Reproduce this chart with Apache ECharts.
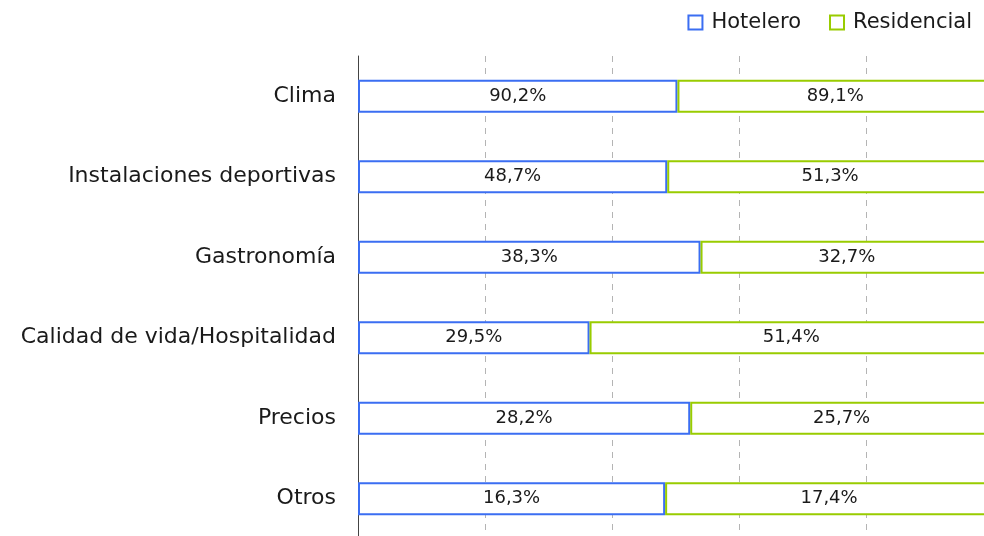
<!DOCTYPE html>
<html>
<head>
<meta charset="utf-8">
<script src="https://cdn.jsdelivr.net/npm/echarts@6/dist/echarts.min.js"></script>
<style>
  html, body { margin: 0; padding: 0; background: #fff; }
  #chart { width: 984px; height: 536px; }
</style>
</head>
<body>
<div id="chart"></div>
<script>
  // categories, top to bottom
  const categories = ['Clima', 'Instalaciones deportivas', 'Gastronomía', 'Calidad de vida/Hospitalidad', 'Precios', 'Otros'];
  const hotelero = [90.2, 48.7, 38.3, 29.5, 28.2, 16.3];
  const residencial = [89.1, 51.3, 32.7, 51.4, 25.7, 17.4];
  const xTicks = [0, 20, 40, 60, 80, 100];

  // 100% stacked: share of each row total
  const share = (arr, i) => arr[i] / (hotelero[i] + residencial[i]) * 100;
  const fmt = v => v.toFixed(1).replace('.', ',') + '%';

  const font = 'DejaVu Sans';
  const blue = '#3b6ef2';
  const green = '#99cc00';

  const myChart = echarts.init(document.getElementById('chart'));

  const makeSeries = (name, raw, color) => ({
    name: name,
    type: 'bar',
    stack: 'total',
    barWidth: 33,
    data: raw.map((v, i) => share(raw, i)),
    itemStyle: { color: '#fff', borderColor: color, borderWidth: 2 },
    label: {
      show: true,
      position: 'inside',
      color: '#1a1a1a',
      fontFamily: font,
      fontSize: 18,
      formatter: p => fmt(raw[p.dataIndex])
    },
    emphasis: { disabled: true }
  });

  const option = {
    animation: false,
    legend: {
      right: 7,
      top: 7,
      itemWidth: 14,
      itemHeight: 14,
      itemGap: 28,
      textStyle: { fontFamily: font, fontSize: 21, color: '#1a1a1a', padding: [0, 0, 0, 4] },
      data: [
        { name: 'Hotelero', icon: 'rect', itemStyle: { color: '#fff', borderColor: blue, borderWidth: 2 } },
        { name: 'Residencial', icon: 'rect', itemStyle: { color: '#fff', borderColor: green, borderWidth: 2 } }
      ]
    },
    // plot runs past the right edge of the window, as in the original
    grid: { left: 358, width: 635, top: 56, height: 483, outerBoundsMode: 'none' },
    xAxis: {
      type: 'value',
      min: xTicks[0],
      max: xTicks[xTicks.length - 1],
      interval: 20,
      axisLine: { show: false },
      axisTick: { show: false },
      axisLabel: { show: false },
      splitLine: { lineStyle: { color: '#b4b4b4', type: [6, 6], width: 1 } }
    },
    yAxis: {
      type: 'category',
      inverse: true,
      data: categories,
      axisLine: { lineStyle: { color: '#444', width: 1 } },
      axisTick: { show: false },
      axisLabel: { fontFamily: font, fontSize: 22, color: '#1a1a1a', margin: 22 }
    },
    series: [
      makeSeries('Hotelero', hotelero, blue),
      makeSeries('Residencial', residencial, green)
    ]
  };

  myChart.setOption(option);
</script>
</body>
</html>
